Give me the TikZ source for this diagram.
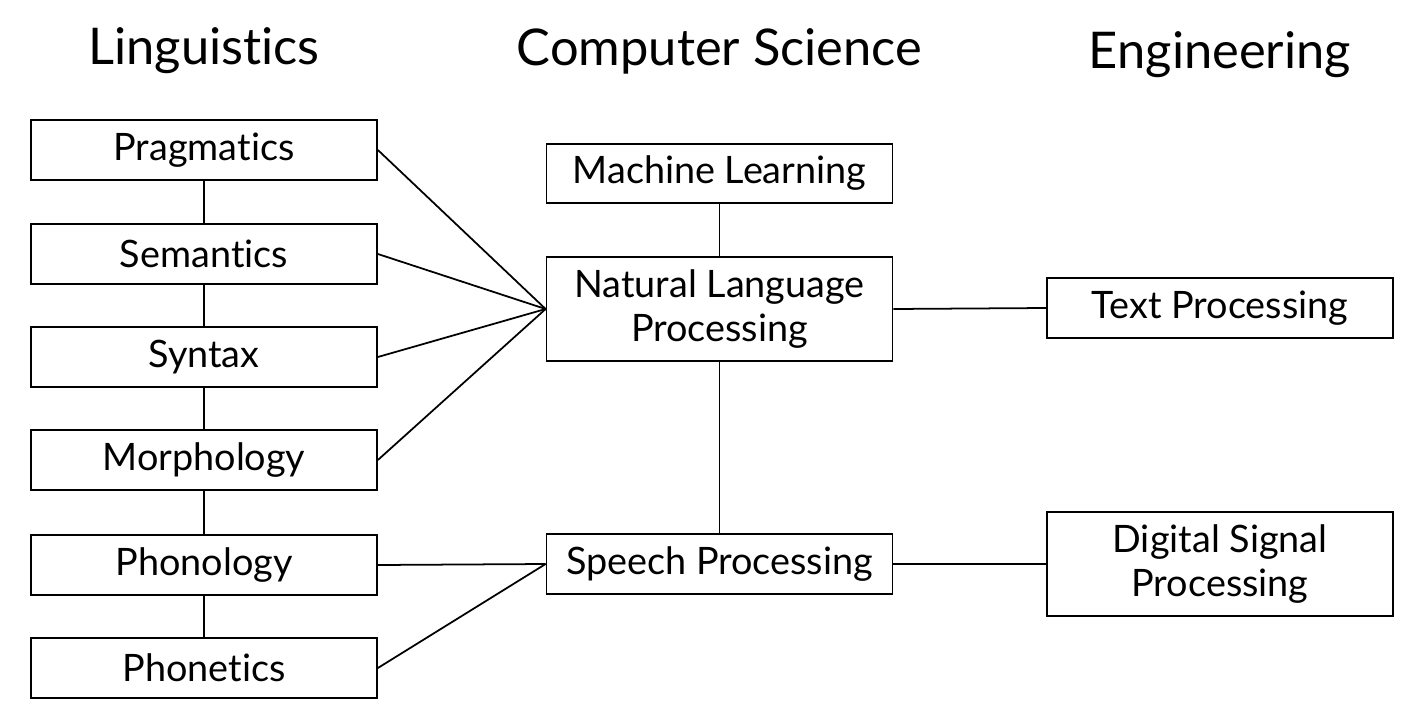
\documentclass[tikz,border=0pt]{standalone}
\usepackage{fontspec}
\setmainfont[Ligatures=NoCommon]{Lato}
\usetikzlibrary{positioning}

\begin{document}
\begin{tikzpicture}[
  box/.style={draw, line width=1pt, align=center, minimum width=6.92cm,
              minimum height=1.19cm, inner sep=0pt, font=\fontsize{21.5}{25}\selectfont},
  tall/.style={box, minimum height=2.08cm},
  head/.style={font=\fontsize{28.8}{34}\selectfont},
  link/.style={line width=1pt}
]
\useasboundingbox (0,0) rectangle (28.4,-14.46);
% column headers
\node[head] (hl) at (4.08,-1.02) {Linguistics};
\node[head] (hc) at (14.39,-1.02) {Computer Science};
\node[head] (he) at (24.4,-1.1) {Engineering};
% linguistics
\node[box] (prag) at (4.08,-3.0) {Pragmatics};
\node[box] (sem) at (4.08,-5.08) {Semantics};
\node[box] (syn) at (4.08,-7.14) {Syntax};
\node[box] (mor) at (4.08,-9.2) {Morphology};
\node[box] (phon) at (4.08,-11.3) {Phonology};
\node[box] (phen) at (4.08,-13.36) {Phonetics};
% computer science
\node[box] (ml) at (14.39,-3.47) {Machine Learning};
\node[tall] (nlp) at (14.39,-6.18) {Natural Language\\Processing};
\node[box] (sp) at (14.39,-11.28) {Speech Processing};
% engineering
\node[box] (tp) at (24.4,-6.16) {Text Processing};
\node[tall] (dsp) at (24.4,-11.28) {Digital Signal\\Processing};
% vertical chain
\draw[link] (prag) -- (sem);
\draw[link] (sem) -- (syn);
\draw[link] (syn) -- (mor);
\draw[link] (mor) -- (phon);
\draw[link] (phon) -- (phen);
\draw[link] (ml) -- (nlp);
\draw[link] (nlp) -- (sp);
% fan-in
\draw[link] (prag.east) -- (nlp.west);
\draw[link] (sem.east) -- (nlp.west);
\draw[link] (syn.east) -- (nlp.west);
\draw[link] (mor.east) -- (nlp.west);
\draw[link] (phon.east) -- (sp.west);
\draw[link] (phen.east) -- (sp.west);
% to engineering
\draw[link] (nlp.east) -- (tp.west);
\draw[link] (sp.east) -- (dsp.west);
\end{tikzpicture}
\end{document}
